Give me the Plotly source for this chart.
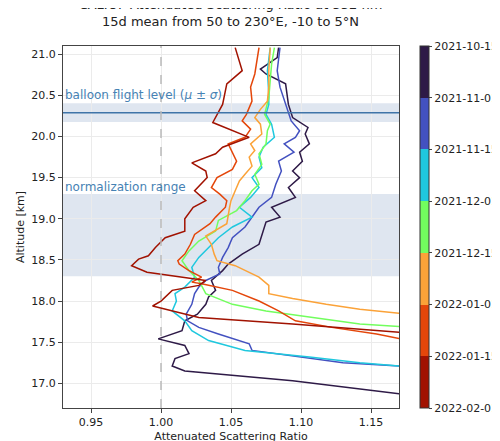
import plotly.graph_objects as go

dates = ["2021-10-15", "2021-11-01", "2021-11-15", "2021-12-01",
         "2021-12-15", "2022-01-01", "2022-01-15", "2022-02-01"]
colors = ["#2e1a47", "#4351c0", "#1fc8de", "#72fe5e", "#fba238", "#e4460a", "#a11201"]

alt_p = [21.08, 20.96, 20.82, 20.76, 20.64, 20.39, 20.23, 20.11, 20.03, 19.91, 19.81, 19.70, 19.58, 19.50, 19.38,
         19.26, 19.14, 19.02, 18.96, 18.81, 18.69, 18.57, 18.45, 18.37, 18.25, 18.13, 18.05, 17.96, 17.84, 17.76,
         17.64, 17.54, 17.46, 17.36, 17.30, 17.21, 17.15, 17.03, 16.87]
val_p = [1.084, 1.083, 1.071, 1.075, 1.089, 1.091, 1.094, 1.105, 1.103, 1.106, 1.099, 1.101, 1.094, 1.099, 1.091,
         1.096, 1.079, 1.085, 1.075, 1.072, 1.070, 1.058, 1.048, 1.044, 1.036, 1.039, 1.034, 1.032, 1.026, 1.017,
         1.015, 0.998, 1.017, 1.020, 1.010, 1.008, 1.017, 1.094, 1.171]

alt_b = [21.08, 20.80, 20.60, 20.39, 20.19, 20.07, 19.99, 19.91, 19.81, 19.70, 19.58, 19.42, 19.26, 19.14, 19.02,
         18.90, 18.77, 18.65, 18.53, 18.41, 18.33, 18.25, 18.17, 18.09, 17.96, 17.84, 17.76, 17.68, 17.60, 17.48,
         17.40, 17.32, 17.25, 17.21]
val_b = [1.085, 1.083, 1.085, 1.089, 1.093, 1.099, 1.096, 1.088, 1.095, 1.084, 1.086, 1.082, 1.079, 1.070, 1.065,
         1.060, 1.051, 1.048, 1.044, 1.041, 1.042, 1.032, 1.027, 1.024, 1.022, 1.018, 1.019, 1.027, 1.041, 1.063,
         1.065, 1.099, 1.130, 1.171]

alt_c = [21.08, 20.80, 20.51, 20.39, 20.27, 20.15, 19.99, 19.87, 19.75, 19.62, 19.50, 19.38, 19.26, 19.14, 19.02,
         18.90, 18.77, 18.65, 18.53, 18.41, 18.29, 18.17, 18.09, 18.00, 17.88, 17.76, 17.64, 17.52, 17.40, 17.32,
         17.25, 17.21]
val_c = [1.078, 1.076, 1.077, 1.077, 1.075, 1.079, 1.081, 1.073, 1.070, 1.072, 1.065, 1.070, 1.064, 1.056, 1.065,
         1.051, 1.041, 1.034, 1.027, 1.022, 1.024, 1.017, 1.010, 1.011, 1.008, 1.017, 1.022, 1.034, 1.060, 1.106,
         1.142, 1.171]

alt_g = [21.08, 20.88, 20.68, 20.47, 20.27, 20.15, 20.07, 19.91, 19.79, 19.66, 19.54, 19.42, 19.34, 19.22, 19.10,
         18.98, 18.85, 18.73, 18.61, 18.49, 18.37, 18.25, 18.09, 17.96, 17.88, 17.80, 17.72, 17.69]
val_g = [1.081, 1.079, 1.078, 1.077, 1.074, 1.078, 1.076, 1.075, 1.070, 1.072, 1.067, 1.070, 1.065, 1.060, 1.054,
         1.041, 1.039, 1.027, 1.020, 1.015, 1.020, 1.027, 1.032, 1.051, 1.075, 1.108, 1.142, 1.171]

alt_o = [21.08, 20.80, 20.60, 20.43, 20.33, 20.23, 20.15, 20.03, 19.91, 19.83, 19.75, 19.64, 19.54, 19.46, 19.34,
         19.22, 19.14, 19.02, 18.94, 18.79, 18.69, 18.57, 18.49, 18.43, 18.29, 18.19, 18.09, 18.03, 17.96, 17.90,
         17.85]
val_o = [1.078, 1.077, 1.077, 1.076, 1.071, 1.067, 1.071, 1.072, 1.064, 1.067, 1.063, 1.065, 1.060, 1.056, 1.053,
         1.050, 1.049, 1.048, 1.047, 1.032, 1.036, 1.038, 1.040, 1.053, 1.070, 1.077, 1.077, 1.094, 1.118, 1.142,
         1.171]

alt_r = [21.08, 20.96, 20.76, 20.60, 20.43, 20.27, 20.19, 20.09, 19.99, 19.91, 19.81, 19.70, 19.60, 19.50, 19.38,
         19.30, 19.22, 19.14, 19.02, 18.94, 18.81, 18.69, 18.57, 18.49, 18.45, 18.37, 18.29, 18.23, 18.21, 18.13,
         18.00, 17.88, 17.76, 17.68, 17.60, 17.54]
val_r = [1.070, 1.069, 1.067, 1.064, 1.065, 1.061, 1.058, 1.064, 1.060, 1.048, 1.051, 1.054, 1.051, 1.040, 1.036,
         1.042, 1.047, 1.046, 1.039, 1.035, 1.024, 1.021, 1.017, 1.012, 1.013, 1.020, 1.029, 1.022, 1.029, 1.051,
         1.070, 1.084, 1.096, 1.122, 1.154, 1.171]

alt_d = [21.08, 20.80, 20.64, 20.39, 20.17, 20.09, 19.99, 19.87, 19.79, 19.68, 19.58, 19.50, 19.34, 19.22, 19.14,
         19.00, 18.85, 18.77, 18.65, 18.55, 18.51, 18.43, 18.35, 18.25, 18.19, 18.13, 18.00, 17.94, 17.90, 17.80,
         17.72, 17.62]
val_d = [1.053, 1.058, 1.047, 1.044, 1.037, 1.048, 1.063, 1.044, 1.039, 1.022, 1.032, 1.033, 1.024, 1.032, 1.023,
         1.017, 1.017, 1.003, 0.996, 0.991, 0.984, 0.979, 0.990, 1.032, 1.027, 1.008, 1.000, 0.994, 1.003, 1.027,
         1.094, 1.171]

series = [(alt_p, val_p), (alt_b, val_b), (alt_c, val_c), (alt_g, val_g),
          (alt_o, val_o), (alt_r, val_r), (alt_d, val_d)]

balloon_mu, balloon_sd = 20.29, 0.115
norm_lo, norm_hi = 18.3, 19.3

font = "DejaVu Sans"
fig = go.Figure()
for (a, v), c in zip(series, colors):
    fig.add_trace(go.Scatter(x=v, y=a, mode="lines", line=dict(color=c, width=1.5),
                             showlegend=False, hoverinfo="skip", cliponaxis=True))

n = len(colors)
cs = []
rev = colors[::-1]
for k, c in enumerate(rev):
    cs.append([k / n, c]); cs.append([(k + 1) / n, c])
fig.add_trace(go.Scatter(x=[1.0], y=[10], mode="markers", showlegend=False, hoverinfo="skip",
                         marker=dict(size=1, color=[0], colorscale=cs, cmin=0, cmax=n, showscale=True,
                                     colorbar=dict(tickvals=list(range(n + 1)), ticktext=dates[::-1],
                                                   thickness=9, len=1.0, lenmode="fraction",
                                                   x=1.062, xanchor="left", y=0.5, yanchor="middle",
                                                   xpad=0, ypad=0,
                                                   outlinewidth=1, outlinecolor="#333", ticks="outside",
                                                   ticklen=3, tickfont=dict(size=11, color="#222")))))

fig.add_hrect(y0=balloon_mu - balloon_sd, y1=balloon_mu + balloon_sd, fillcolor="#dfe6f0",
              line_width=0, layer="below")
fig.add_hrect(y0=norm_lo, y1=norm_hi, fillcolor="#dfe6f0", line_width=0, layer="below")
fig.add_hline(y=balloon_mu, line=dict(color="#3f74a8", width=1.5))
fig.add_vline(x=1.0, line=dict(color="#bbbbbb", width=1.5, dash="dash"))

fig.add_annotation(x=0, xref="paper", xanchor="left", y=20.5, yanchor="middle",
                   text="balloon flight level (<i>μ</i> ± <i>σ</i>)", showarrow=False, xshift=0,
                   font=dict(size=12, color="#4682b4"))
fig.add_annotation(x=0, xref="paper", xanchor="left", y=19.39, yanchor="middle",
                   text="normalization range", showarrow=False, xshift=0,
                   font=dict(size=12, color="#4682b4"))

fig.update_layout(
    width=500, height=441, margin=dict(l=55, r=109, t=38, b=41, autoexpand=False),
    plot_bgcolor="white", paper_bgcolor="white",
    font=dict(family=font, size=11, color="#222"),
    title=dict(text="CALIOP Attenuated Scattering Ratio at 532 nm<br>15d mean from 50 to 230°E, -10 to 5°N",
               x=0.445, xanchor="center", xref="container", y=0.998, yanchor="top", yref="container",
               font=dict(size=13)),
)
axis = dict(showgrid=True, gridcolor="#ebebeb", gridwidth=1, showline=True, linecolor="#444", mirror=True,
            ticks="outside", ticklen=4, tickcolor="#444", zeroline=False, automargin=False)
fig.update_xaxes(range=[0.93, 1.17], tickvals=[0.95, 1.0, 1.05, 1.1, 1.15], tickformat=".2f",
                 title=dict(text="Attenuated Scattering Ratio", standoff=4, font=dict(size=11)), **axis)
fig.update_yaxes(range=[16.7, 21.1], dtick=0.5, tickformat=".1f",
                 title=dict(text="Altitude [km]", standoff=4, font=dict(size=11)), **axis)

fig.write_html("out.html")
